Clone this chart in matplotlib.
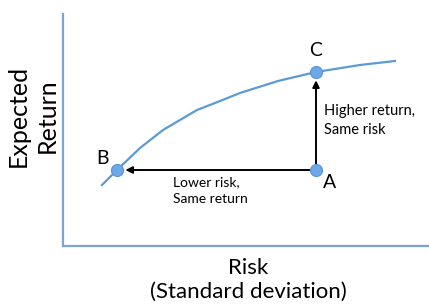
import matplotlib
matplotlib.use("Agg")
import matplotlib.pyplot as plt

# Frontier curve (risk, expected return), arbitrary units
curve_risk = [39, 54, 77, 100, 134, 152, 177, 215, 253, 297, 332]
curve_ret = [61, 76, 98, 116, 136, 143, 153, 165, 174, 181, 185]

# Labelled portfolios
pt_names = ["A", "B", "C"]
pt_risk = [253, 54, 253]
pt_ret = [76, 76, 174]

W, H = 429, 307
fig = plt.figure(figsize=(W / 100, H / 100), dpi=100)
ax = fig.add_axes([63 / W, 1 - 246 / H, 1 - 63 / W, 232 / H])
ax.set_xlim(0, 366)
ax.set_ylim(0, 232)
for s in ["top", "right"]:
    ax.spines[s].set_visible(False)
for s in ["left", "bottom"]:
    ax.spines[s].set_color("#7ba3d6")
    ax.spines[s].set_linewidth(1.6)
ax.set_xticks([])
ax.set_yticks([])

font = "Lato"
line_col = "#5b9bd5"
ax.plot(curve_risk, curve_ret, color=line_col, lw=1.6, zorder=2,
        solid_joinstyle="round")

A = (pt_risk[0], pt_ret[0])
B = (pt_risk[1], pt_ret[1])
C = (pt_risk[2], pt_ret[2])
arrowprops = dict(arrowstyle="-|>", color="black", lw=1.4, mutation_scale=10,
                  shrinkA=0, shrinkB=6)
ax.annotate("", xy=B, xytext=A, arrowprops=arrowprops, zorder=3)
ax.annotate("", xy=C, xytext=A, arrowprops=arrowprops, zorder=3)

ax.scatter(pt_risk, pt_ret, s=75, color="#6ea8e6", edgecolor="#5a93d6",
           linewidth=0.8, zorder=4)

offsets = {"A": (14, -13), "B": (-14, 12), "C": (0, 22)}
for n, x, y in zip(pt_names, pt_risk, pt_ret):
    dx, dy = offsets[n]
    ax.text(x + dx, y + dy, n, fontsize=14, family=font, ha="center",
            va="center")

ax.text(261, 142, "Higher return,\nSame risk", fontsize=10.5, family=font,
        ha="left", va="top", linespacing=1.45)
ax.text(110, 70, "Lower risk,\nSame return", fontsize=10, family=font,
        ha="left", va="top", linespacing=1.5)

fig.text(248 / W, 1 - 268 / H, "Risk", fontsize=16, family=font,
         ha="center", va="center")
fig.text(248 / W, 1 - 292 / H, "(Standard deviation)", fontsize=16,
         family=font, ha="center", va="center")
fig.text(33 / W, 1 - 116 / H, "Expected\nReturn", fontsize=18, family=font,
         ha="center", va="center", rotation=90, linespacing=1.3)

fig.savefig("out.png", dpi=100)
